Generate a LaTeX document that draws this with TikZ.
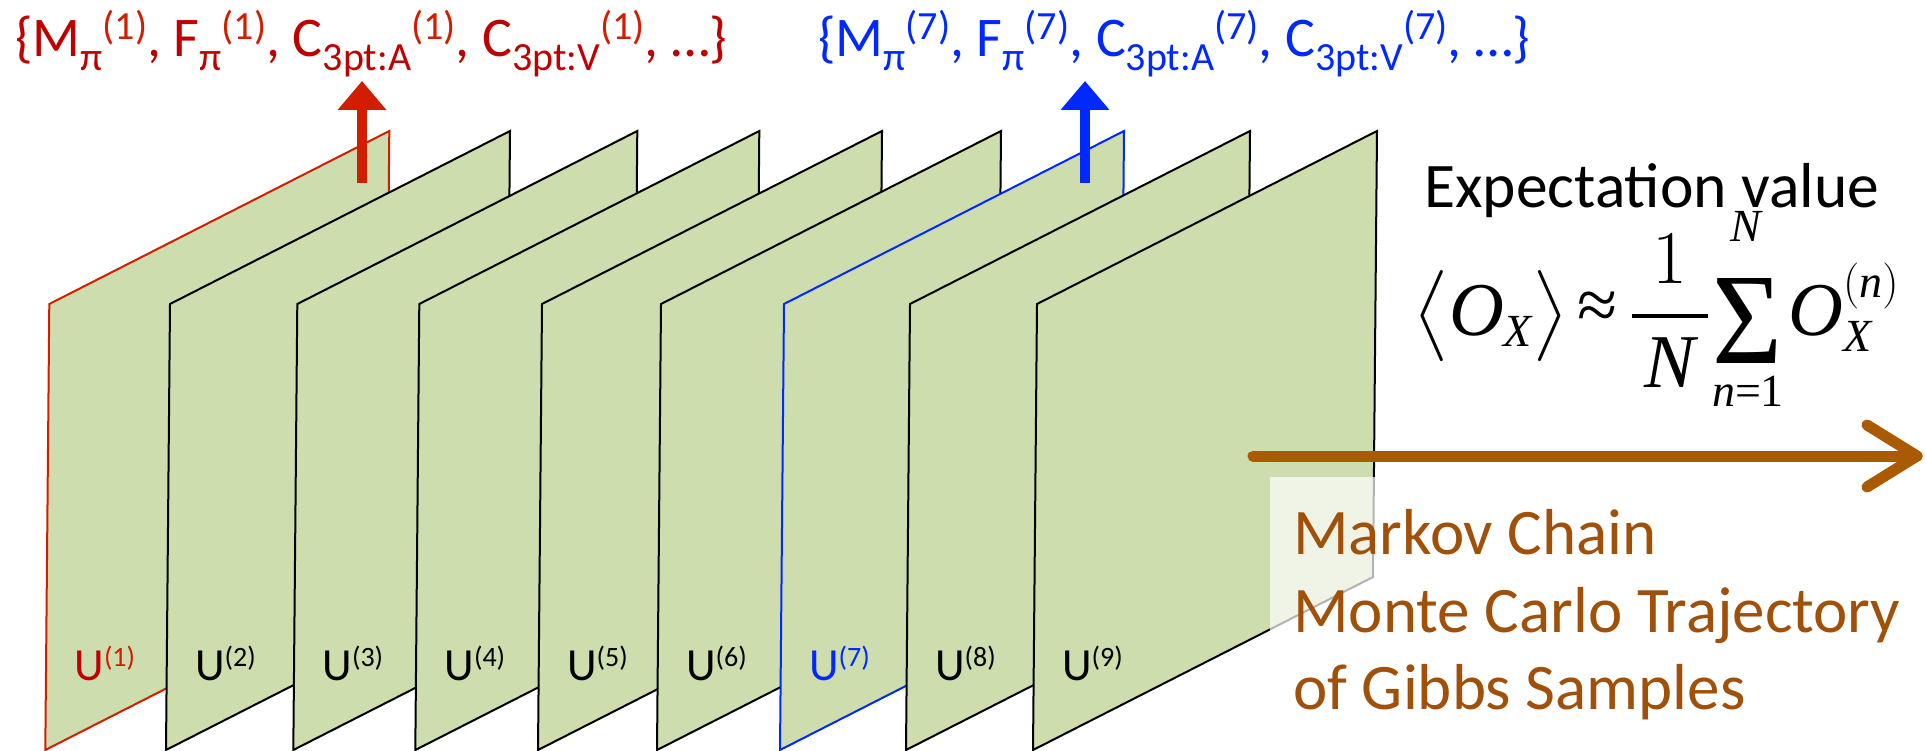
\RequirePackage{fix-cm}
\documentclass[tikz,border=0pt]{standalone}
\usepackage{graphicx}
\usepackage{fontspec}
\setmainfont{Carlito}
\newfontfamily\tnr{Liberation Serif}[NFSSFamily=tnr]
\DeclareFontShape{OMX}{cmex}{m}{n}{<-> cmex10}{}
\DeclareSymbolFont{letters}{TU}{tnr}{m}{it}
\DeclareSymbolFont{operators}{TU}{tnr}{m}{n}
\DeclareMathSizes{76}{76}{46}{34}
\usetikzlibrary{arrows.meta,calc}
\definecolor{panelfill}{RGB}{205,221,173}
\definecolor{redtxt}{RGB}{192,0,0}
\definecolor{redarr}{RGB}{210,30,0}
\definecolor{bluetxt}{RGB}{0,40,255}
\definecolor{orng}{RGB}{170,90,0}
\definecolor{orngtxt}{RGB}{160,80,8}
\newcommand\mysub[1]{\raisebox{-14pt}{\fontsize{40}{40}\selectfont #1}}
\newcommand\mysup[2]{\raisebox{17pt}{\fontsize{40}{40}\selectfont\color{#1}#2}}
\newcommand\usup[2]{\raisebox{14pt}{\fontsize{28}{28}\selectfont\color{#1}#2}}
\tikzset{
  panelbox/.style={fill=panelfill, line width=2pt, line join=miter},
  ulabel/.style={anchor=base west, inner sep=0pt, font=\fontsize{46}{46}\selectfont},
  toptext/.style={anchor=base west, inner sep=0pt, font=\fontsize{56}{56}\selectfont},
  uparrow/.style={line width=10.3pt, -{Triangle[width=47pt,length=29pt]}},
  orngline/.style={draw=orng, line width=11pt, line cap=round, line join=round},
  mctext/.style={anchor=base west, inner sep=0pt, text=orngtxt, font=\fontsize{65}{65}\selectfont},
  mathbig/.style={inner sep=0pt, font=\fontsize{76}{76}\selectfont},
  mathlim/.style={anchor=base, inner sep=0pt, font=\fontsize{46}{46}\selectfont\tnr},
}
\begin{document}
\begin{tikzpicture}[x=1pt,y=-1pt]
\useasboundingbox (0,0) rectangle (1926,751);
% panels
\foreach \x/\c/\tc/\sc [count=\i] in {49.3/redarr/redtxt/redarr, 170/black/black/black, 297.3/black/black/black, 419.3/black/black/black, 542/black/black/black, 661/black/black/black, 784/bluetxt/bluetxt/bluetxt, 910/black/black/black, 1037/black/black/black}{
  \filldraw[panelbox, draw=\c] (\x,304) -- (\x+340,131) -- (\x+336,577) -- (\x-4,750) -- cycle;
  \node[ulabel, text=\tc] (u\i) at (\x+25,680) {U\usup{\sc}{(\i)}};
}
% translucent box behind the caption
\fill[white, opacity=0.7] (1270,477) rectangle (1926,751);
% observables
\node[toptext, text=redtxt] (obs1) at (15,57) {\{M\mysub{π}\mysup{redarr}{(1)}, F\mysub{π}\mysup{redarr}{(1)}, C\mysub{3pt:A}\mysup{redarr}{(1)}, C\mysub{3pt:V}\mysup{redarr}{(1)}, …\}};
\node[toptext, text=bluetxt] (obs7) at (818,57) {\{M\mysub{π}\mysup{bluetxt}{(7)}, F\mysub{π}\mysup{bluetxt}{(7)}, C\mysub{3pt:A}\mysup{bluetxt}{(7)}, C\mysub{3pt:V}\mysup{bluetxt}{(7)}, …\}};
\coordinate (r0) at (362,183);
\coordinate (r1) at (362,81);
\coordinate (b0) at (1085,183);
\coordinate (b1) at (1085,81);
\draw[uparrow, draw=redarr, fill=redarr] (r0) -- (r1);
\draw[uparrow, draw=bluetxt, fill=bluetxt] (b0) -- (b1);
% expectation value
\node[anchor=base west, inner sep=0pt, font=\fontsize{63.5}{63.5}\selectfont] (ev) at (1424,208) {Expectation value};
% formula, piece by piece
\node[mathbig, anchor=base west] (lhs) at (1413,335)
  {$\displaystyle \left\langle\vrule height 0.8em depth 0.3em width 0pt O_X \right\rangle$};
\node[anchor=center, inner sep=0pt, font=\tnr] (apx) at (1597,311) {\resizebox{40pt}{!}{≈}};
\node[mathbig, anchor=base] (frac) at (1670,335) {$\displaystyle\frac{1}{\,N\,}$};
\node[anchor=center, inner sep=0pt, font=\tnr] (sig) at (1747,320.5) {\resizebox*{70pt}{85pt}{\char"03A3}};
\node[mathlim] (supN) at (1746,242) {\itshape N};
\node[mathlim] (subn) at (1748,406) {{\itshape n}=1};
\node[mathbig, anchor=base west] (ox) at (1788,335) {$\displaystyle O_X^{(n)}$};
% markov chain arrow
\coordinate (ms) at (1253,456);
\coordinate (me) at (1917,456);
\draw[orngline] (ms) -- (me);
\draw[orngline] ($(me)+(-50,-31)$) -- (me) -- ($(me)+(-50,31)$);
% caption
\node[mctext] (mc1) at (1293,554) {Markov Chain};
\node[mctext] (mc2) at (1293,632) {Monte Carlo Trajectory};
\node[mctext] (mc3) at (1293,709) {of Gibbs Samples};
\end{tikzpicture}
\end{document}
